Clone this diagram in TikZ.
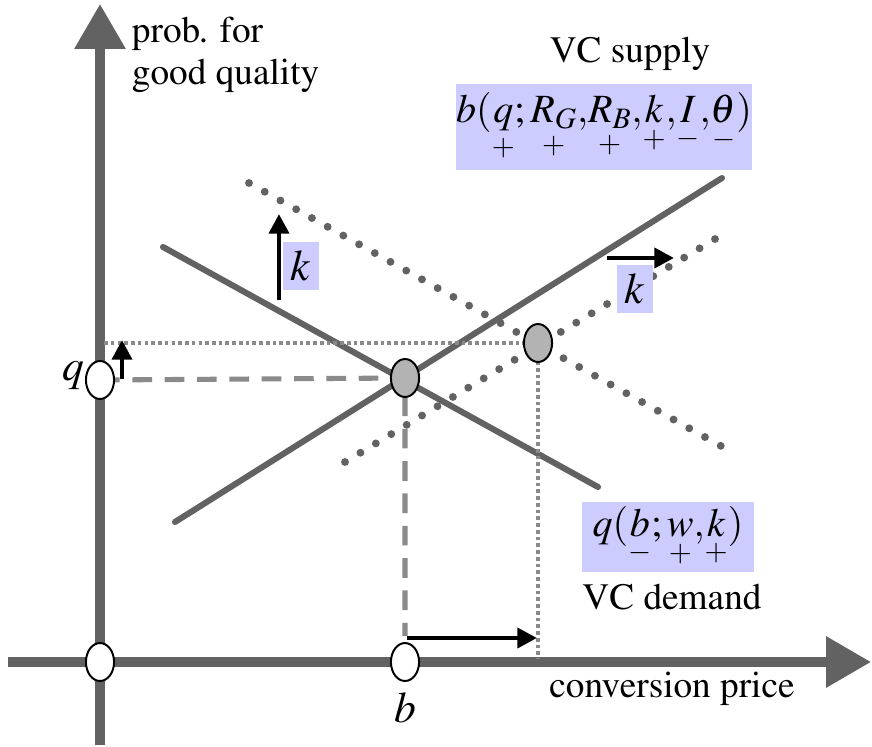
\documentclass[tikz,border=0pt]{standalone}
\usepackage[T1]{fontenc}
\usepackage{amsmath}
\usepackage{mathptmx}
\usetikzlibrary{arrows.meta,shapes.geometric,backgrounds}
\definecolor{axisgray}{HTML}{626262}
\definecolor{guidegray}{HTML}{8A8A8A}
\definecolor{eqgray}{HTML}{B3B3B3}
\definecolor{lav}{HTML}{CCCCFF}
\tikzset{px/.style={x=0.025cm,y=-0.025cm},
  axisline/.style={axisgray,line width=6.5pt,-{Triangle[length=32pt,width=35pt]}},
  curve/.style={axisgray,line width=4.3pt,line cap=round},
  shiftline/.style={axisgray,line width=5.6pt,line cap=round,dash pattern=on 0pt off 12.8pt},
  dashline/.style={guidegray,line width=3.6pt,dash pattern=on 14pt off 9pt},
  dotline/.style={guidegray,line width=2.6pt,dash pattern=on 2.6pt off 2.2pt},
  push/.style={black,line width=3.4pt,-{Triangle[length=14pt,width=14pt]}},
  hole/.style={ellipse,draw,line width=1.4pt,fill=white,minimum width=20pt,minimum height=27pt,inner sep=0pt},
  eqpt/.style={hole,fill=eqgray},
  tag/.style={fill=lav,inner sep=3pt},
  txt/.style={font=\fontsize{26.5}{30}\selectfont},
  mth/.style={font=\fontsize{31}{36}\selectfont},
  frm/.style={font=\fontsize{28.5}{34}\selectfont}}

\begin{document}
\begin{tikzpicture}[px]
  \useasboundingbox (0,0) rectangle (872,747);
  % axis points and equilibria
  \node[hole] (o)  at (100,662) {};
  \node[hole] (q0) at (100,380) {};
  \node[hole] (b0) at (405,662) {};
  \node[eqpt] (e1) at (405,378) {};
  \node[eqpt] (e2) at (538,343) {};
  \node[mth] (ql) at (73,376) {$q$};
  \node[mth] (bl) at (405,708) {$b$};
  % ends of axes and lines
  \coordinate (ybot) at (100,745); \coordinate (ytop) at (100,4);
  \coordinate (xl) at (8,662);     \coordinate (xr) at (871,662);
  \coordinate (d1a) at (163,247);  \coordinate (d1b) at (598,487);
  \coordinate (s1a) at (175,522);  \coordinate (s1b) at (722,178);
  \coordinate (d2a) at (249,183);  \coordinate (d2b) at (730,451);
  \coordinate (s2a) at (345,462);  \coordinate (s2b) at (720,236);
  \coordinate (bq) at (405,636);   \coordinate (qt) at (104,343);
  \coordinate (bt) at (538,659);
  \begin{scope}[on background layer]
    \draw[axisline] (ybot) -- (ytop);
    \draw[axisline] (xl) -- (xr);
    \draw[curve] (d1a) -- (d1b);
    \draw[curve] (s1a) -- (s1b);
    \draw[shiftline] (d2a) -- (d2b);
    \draw[shiftline] (s2a) -- (s2b);
    \draw[dashline] (q0.center) -- (e1.center) -- (bq);
    \draw[dotline] (qt) -- (e2.center) -- (bt);
  \end{scope}
  % shifts
  \coordinate (k1a) at (279,300);  \coordinate (k1b) at (279,214);
  \coordinate (k2a) at (607,258);  \coordinate (k2b) at (674,258);
  \coordinate (qsa) at (122,379);  \coordinate (qsb) at (122,340);
  \coordinate (bsa) at (407,638);  \coordinate (bsb) at (537,638);
  \foreach \a/\b in {k1a/k1b,k2a/k2b,qsa/qsb,bsa/bsb}{\draw[push] (\a) -- (\b);}
  \node[tag,mth,minimum width=25pt,minimum height=34pt,inner sep=0pt] (k1) at (301,266) {$k$};
  \node[tag,mth,minimum width=25pt,minimum height=34pt,inner sep=0pt] (k2) at (635,289) {$k$};
  % labels
  \node[txt,align=left,anchor=north west] (ylab) at (127,12) {prob. for\\good quality};
  \node[txt] (xlab) at (672,689) {conversion price};
  \node[txt] (slab) at (630,54) {VC supply};
  \node[tag,frm,minimum width=207pt,minimum height=61pt,inner sep=0pt] (sup) at (604,127)
    {$b(\underset{+}{q};\underset{+}{R_G}{,}\underset{+}{R_B}{,}\underset{+}{k}{,}\underset{-}{I}{,}\underset{-}{\theta})$};
  \node[tag,frm,minimum width=123pt,minimum height=50pt,inner sep=0pt] (dem) at (668,537)
    {$q(\underset{-}{b};\underset{+}{w}{,}\underset{+}{k})$};
  \node[txt] (dlab) at (672,597) {VC demand};
\end{tikzpicture}
\end{document}
